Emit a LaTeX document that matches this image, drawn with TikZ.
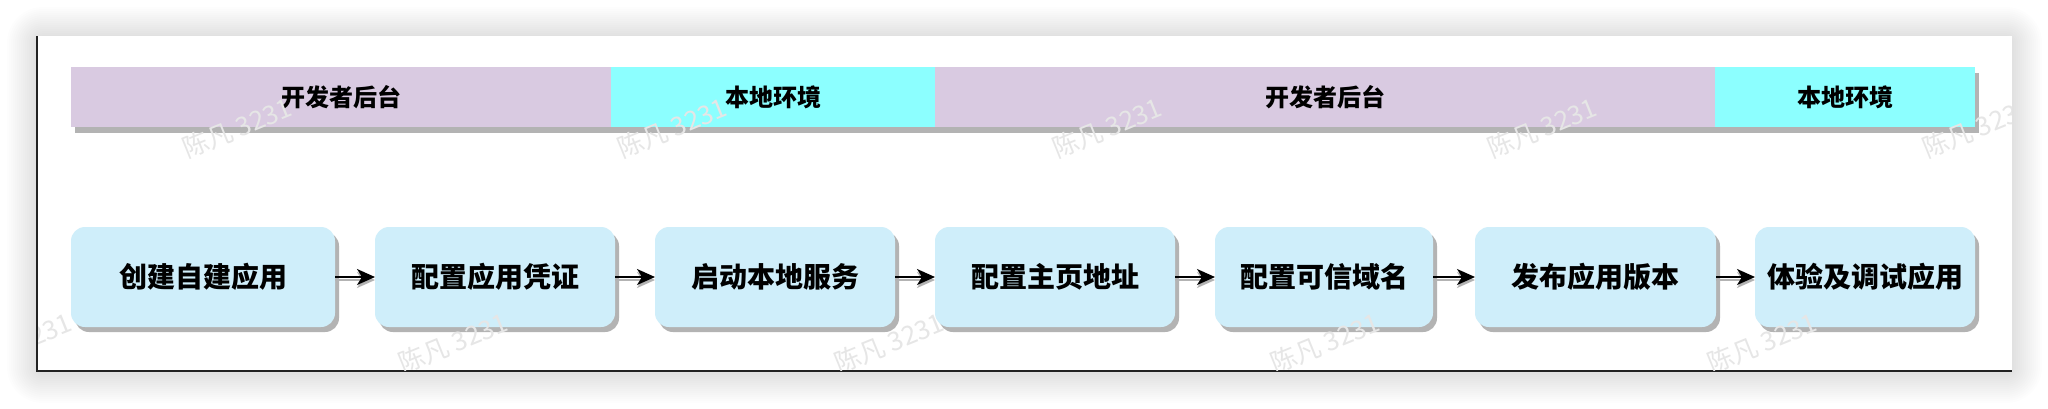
\documentclass[tikz,border=0pt]{standalone}
\usepackage{fontspec}
\newfontfamily\cjk{Noto Sans CJK SC}
\usetikzlibrary{shadows,arrows.meta}
\definecolor{purplebar}{RGB}{217,202,225}
\definecolor{cyanbar}{RGB}{140,255,255}
\definecolor{boxblue}{RGB}{207,238,250}
\definecolor{shadowgray}{RGB}{179,179,179}
\definecolor{framedark}{RGB}{34,34,34}
\definecolor{wmgray}{RGB}{230,230,230}
\begin{document}
\begin{tikzpicture}[x=1pt,y=-1pt,
  seg/.style={anchor=north west, minimum height=60pt, inner sep=0pt, outer sep=0pt, font=\cjk\bfseries\fontsize{24}{24}\selectfont},
  stepbox/.style={anchor=north west, minimum height=100pt, inner sep=0pt, outer sep=0pt, fill=boxblue, rounded corners=14pt, font=\cjk\bfseries\fontsize{28}{28}\selectfont, general shadow={fill=shadowgray, shadow xshift=4pt, shadow yshift=-5pt}},
  arr/.style={draw=black, line width=2pt, -{Stealth[length=18pt,width=16pt,inset=5pt]}},
  arrshadow/.style={draw=shadowgray, line width=2pt, -{Stealth[length=18pt,width=16pt,inset=5pt]}},
  wm/.style={font=\cjk\fontsize{26}{26}\selectfont, text=wmgray, rotate=22, inner sep=0pt},
  glow/.style={fill=black, opacity=0.008}
]
\useasboundingbox (0,0) rectangle (2048,408);
\fill[white] (0,0) rectangle (2048,408);
% soft shadow round the frame
\foreach \i in {1,...,15}{
  \pgfmathsetmacro\d{2*\i}
  \pgfmathsetmacro\r{2*\i+6}
  \fill[glow, rounded corners=\r pt] (37-\d,37-\d) rectangle (2012+\d,373+\d);
}
\fill[white] (37,36) rectangle (2012,371);
\draw[framedark, line width=2pt] (37,36) -- (37,371) -- (2012,371);
% header band
\fill[shadowgray] (75,73) rectangle (1979,133);
\node[seg, fill=purplebar, minimum width=540pt] (h1) at (71,67) {开发者后台};
\node[seg, fill=cyanbar, minimum width=324pt] (h2) at (611,67) {本地环境};
\node[seg, fill=purplebar, minimum width=780pt] (h3) at (935,67) {开发者后台};
\node[seg, fill=cyanbar, minimum width=260pt] (h4) at (1715,67) {本地环境};
% steps
\node[stepbox, minimum width=264pt] (b1) at (71,227) {创建自建应用};
\node[stepbox, minimum width=240pt] (b2) at (375,227) {配置应用凭证};
\node[stepbox, minimum width=240pt] (b3) at (655,227) {启动本地服务};
\node[stepbox, minimum width=240pt] (b4) at (935,227) {配置主页地址};
\node[stepbox, minimum width=218pt] (b5) at (1215,227) {配置可信域名};
\node[stepbox, minimum width=241pt] (b6) at (1475,227) {发布应用版本};
\node[stepbox, minimum width=220pt] (b7) at (1755,227) {体验及调试应用};
% connectors
\foreach \a/\b in {b1/b2,b2/b3,b3/b4,b4/b5,b5/b6,b6/b7}{
  \draw[arrshadow] ([yshift=-3pt]\a.east) -- ([yshift=-3pt]\b.west);
  \draw[arr] (\a.east) -- (\b.west);
}
% watermarks
\begin{scope}
\clip (38,36) rectangle (2011,370);
\node[wm] (w1) at (237,128) {陈凡 3231};
\node[wm] (w2) at (672,128) {陈凡 3231};
\node[wm] (w3) at (1107,128) {陈凡 3231};
\node[wm] (w4) at (1542,128) {陈凡 3231};
\node[wm] (w5) at (1977,128) {陈凡 3231};
\node[wm] (w6) at (17,343) {陈凡 3231};
\node[wm] (w7) at (453,343) {陈凡 3231};
\node[wm] (w8) at (889,343) {陈凡 3231};
\node[wm] (w9) at (1325,343) {陈凡 3231};
\node[wm] (w10) at (1762,343) {陈凡 3231};
\end{scope}
\end{tikzpicture}
\end{document}
